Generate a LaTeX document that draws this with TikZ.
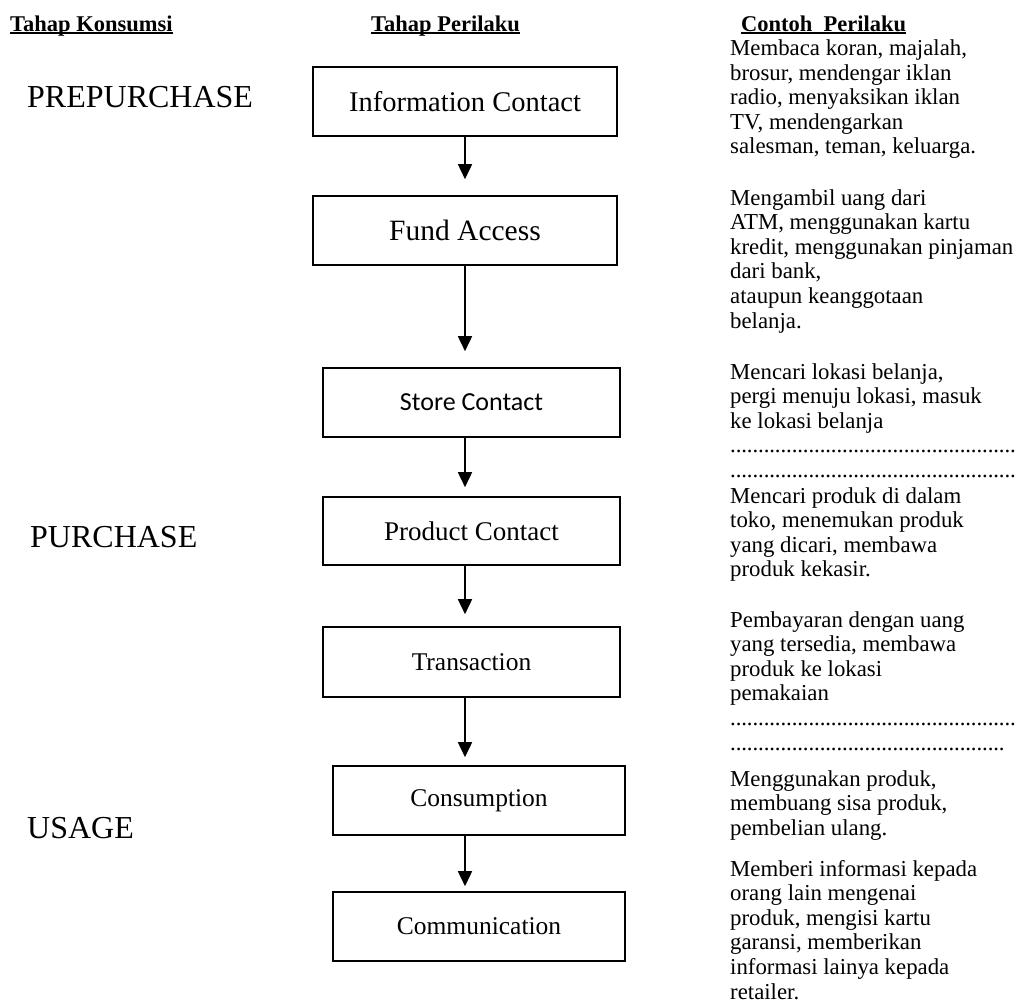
\documentclass[tikz,border=0pt]{standalone}
\usepackage{fontspec}
\setmainfont{Liberation Serif}
\newfontfamily\calibrifont{Carlito}
\usetikzlibrary{arrows.meta}
\newcommand\garis[1]{\setbox0\hbox{#1}\rlap{\rule[-0.12em]{\wd0}{0.07em}}\box0}
\newcommand\titik[1]{\hbox to #1{\leaders\hbox to 5.6pt{\hss.\hss}\hfill}}

\begin{document}
\begin{tikzpicture}[x=1pt,y=-1pt,
    kotak/.style={draw,line width=1.6pt,inner sep=0pt,minimum width=297pt,minimum height=69pt,font=\fontsize{25.5}{30}\selectfont},
    tahap/.style={anchor=base west,inner sep=0pt,font=\fontsize{32}{34}\selectfont},
    judul/.style={anchor=base west,inner sep=0pt,font=\fontsize{22.5}{24}\selectfont\bfseries},
    contoh/.style={anchor=base west,inner sep=0pt,align=left,font=\fontsize{22.8}{24.6}\selectfont},
    panah/.style={line width=1.6pt,-{Triangle[width=14pt,length=15pt]}}]
    \useasboundingbox (0,0) rectangle (1019,1007);

    \node[judul] (hkons) at (10,31) {\garis{Tahap Konsumsi}};
    \node[judul] (hperi) at (371,31) {\garis{Tahap Perilaku}};
    \node[judul] (hcont) at (741,31) {\garis{Contoh\ \ Perilaku}};

    \node[tahap] (pre) at (27,107) {PREPURCHASE};
    \node[tahap] (pur) at (30,547) {PURCHASE};
    \node[tahap] (usa) at (27,838) {USAGE};

    \node[kotak,minimum width=304pt,font=\fontsize{28.5}{30}\selectfont] (info) at (465,101.5) {Information Contact};
    \node[kotak,minimum width=304pt,font=\fontsize{29.5}{30}\selectfont] (fund) at (465,230.5) {Fund Access};
    \node[kotak,font=\calibrifont\fontsize{26}{30}\selectfont] (store) at (471.5,402.5) {Store Contact};
    \node[kotak,minimum height=68pt,font=\fontsize{27}{30}\selectfont] (product) at (471.5,531) {Product Contact};
    \node[kotak,minimum height=70pt] (trans) at (471.5,662) {Transaction};
    \node[kotak,minimum width=292pt] (cons) at (479,800.5) {Consumption};
    \node[kotak,minimum width=292pt] (comm) at (479,926.5) {Communication};

    \foreach \a/\b/\g in {info/fund/16,fund/store/16,store/product/9,product/trans/12,trans/cons/8,cons/comm/5}
        \draw[panah,shorten >=\g pt] (\a.south -| info.south) -- (\b.north -| info.south);

    \node[contoh] (cinfo) at (730,153.9) {Membaca koran, majalah,\\ brosur, mendengar iklan\\ radio, menyaksikan iklan\\ TV, mendengarkan\\ salesman, teman, keluarga.};
    \node[contoh] (cfund) at (730,328) {Mengambil uang dari\\ ATM, menggunakan kartu\\ kredit, menggunakan pinjaman\\ dari bank,\\ ataupun keanggotaan\\ belanja.};
    \node[contoh] (cstore) at (730,477.4) {Mencari lokasi belanja,\\ pergi menuju lokasi, masuk\\ ke lokasi belanja\\ \titik{287pt}\\ \titik{287pt}};
    \node[contoh] (cprod) at (730,576.8) {Mencari produk di dalam\\ toko, menemukan produk\\ yang dicari, membawa\\ produk kekasir.};
    \node[contoh] (ctrans) at (730,750) {Pembayaran dengan uang\\ yang tersedia, membawa\\ produk ke lokasi\\ pemakaian\\ \titik{287pt}\\ \titik{278pt}};
    \node[contoh] (ccons) at (730,835.2) {Menggunakan produk,\\ membuang sisa produk,\\ pembelian ulang.};
    \node[contoh] (ccomm) at (730,999) {Memberi informasi kepada\\ orang lain mengenai\\ produk, mengisi kartu\\ garansi, memberikan\\ informasi lainya kepada\\ retailer.};
\end{tikzpicture}
\end{document}
